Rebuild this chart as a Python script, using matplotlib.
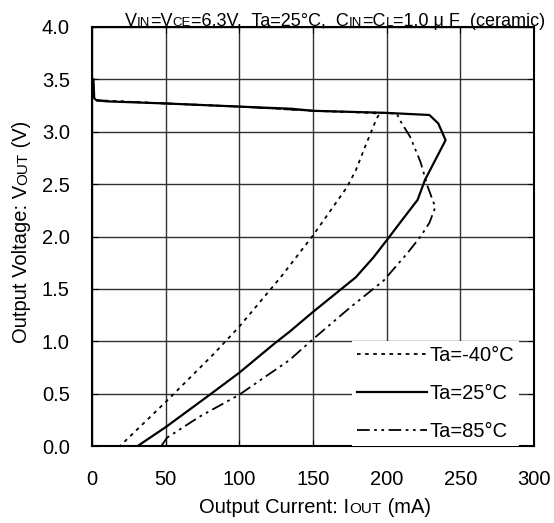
import matplotlib
matplotlib.use("Agg")
import matplotlib.pyplot as plt
from matplotlib.transforms import IdentityTransform

plt.rcParams['font.family'] = ['Liberation Sans', 'DejaVu Sans']

# Ta = 25 C
i_25 = [1, 1.5, 3, 10, 50, 100, 135, 150, 200, 229, 235, 240, 233, 226, 221, 209,
        202, 191, 179, 150, 134, 124, 100, 80, 50, 31]
v_25 = [3.50, 3.32, 3.30, 3.29, 3.27, 3.24, 3.22, 3.20, 3.18, 3.16, 3.08, 2.92,
        2.73, 2.54, 2.35, 2.13, 2.00, 1.80, 1.61, 1.28, 1.09, 0.98, 0.70, 0.49, 0.18, 0.0]
# Ta = -40 C
i_m40 = [3, 50, 100, 150, 190, 195, 193, 186, 179, 173, 150, 128, 100, 82, 50, 19]
v_m40 = [3.30, 3.27, 3.24, 3.20, 3.18, 3.17, 3.12, 2.88, 2.63, 2.47, 2.01, 1.61,
         1.14, 0.87, 0.42, 0.0]
# Ta = 85 C
i_85 = [3, 50, 100, 150, 200, 207, 209, 216, 223, 228, 233, 229, 223, 214, 198,
        175, 150, 134, 100, 73, 51, 47]
v_85 = [3.30, 3.27, 3.24, 3.20, 3.18, 3.17, 3.11, 2.95, 2.71, 2.47, 2.28, 2.13,
        2.00, 1.84, 1.58, 1.32, 1.02, 0.82, 0.49, 0.28, 0.08, 0.0]

x_ticks = [0, 50, 100, 150, 200, 250, 300]
y_ticks = [0.0, 0.5, 1.0, 1.5, 2.0, 2.5, 3.0, 3.5, 4.0]


def mixed_text(fig, x, y, parts, ha='left', rotation=0):
    # write text pieces of different sizes one after the other (pixel coords)
    r = fig.canvas.get_renderer()
    texts = []
    for s, size in parts:
        t = fig.text(0, 0, s, fontsize=size, transform=IdentityTransform(),
                     ha='left', va='baseline', rotation=rotation,
                     rotation_mode='anchor')
        texts.append(t)
    lens = []
    for t in texts:
        bb = t.get_window_extent(renderer=r)
        lens.append(bb.height if rotation == 90 else bb.width)
    total = sum(lens)
    if ha == 'center':
        start = (y if rotation == 90 else x) - total / 2
    elif ha == 'right':
        start = (y if rotation == 90 else x) - total
    else:
        start = y if rotation == 90 else x
    pos = start
    for t, l in zip(texts, lens):
        if rotation == 90:
            t.set_position((x, pos))
        else:
            t.set_position((pos, y))
        pos += l


fig = plt.figure(figsize=(5.54, 5.23), dpi=100)
ax = fig.add_axes([92 / 554, 1 - 446 / 523, 442 / 554, 419 / 523])

ax.plot(i_m40, v_m40, color='black', lw=1.3, linestyle=(0, (2, 2.5)), label='Ta=-40°C')
ax.plot(i_25, v_25, color='black', lw=1.6, label='Ta=25°C')
ax.plot(i_85, v_85, color='black', lw=1.3, linestyle=(0, (7, 2.5, 1.5, 2.5, 1.5, 2.5)),
        label='Ta=85°C')

ax.set_xlim(0, 300)
ax.set_ylim(0, 4.0)
ax.set_xticks(x_ticks)
ax.set_yticks(y_ticks)
ax.set_yticklabels([f"{v:.1f}" for v in y_ticks])
ax.tick_params(direction='in', top=True, right=True, length=4, labelsize=14.5)
ax.tick_params(axis='x', pad=17)
ax.tick_params(axis='y', pad=16)
ax.grid(True, color='#303030', lw=1.0)
for sp in ax.spines.values():
    sp.set_linewidth(1.5)

leg = ax.legend(loc='lower right', bbox_to_anchor=(0.966, 0.0), frameon=True,
                fancybox=False, framealpha=1, edgecolor='white', facecolor='white',
                fontsize=14.5, handlelength=3.5, handletextpad=0.1, labelspacing=0.95,
                borderpad=0.25, borderaxespad=0.0)
leg.get_frame().set_linewidth(0)

mixed_text(fig, 545, 497, [("V", 13), ("IN", 9.5), ("=V", 13), ("CE", 9.5),
                           ("=6.3V,  Ta=25°C,  C", 13), ("IN", 9.5), ("=C", 13),
                           ("L", 9.5), ("=1.0 μ F  (ceramic)", 13)], ha='right')
mixed_text(fig, 315, 10, [("Output Current: I", 14.5), ("OUT", 11), (" (mA)", 14.5)],
           ha='center')
mixed_text(fig, 27, 523 - 232, [("Output Voltage: V", 14.5), ("OUT", 11), (" (V)", 14.5)],
           ha='center', rotation=90)

fig.savefig("out.png", dpi=100)
